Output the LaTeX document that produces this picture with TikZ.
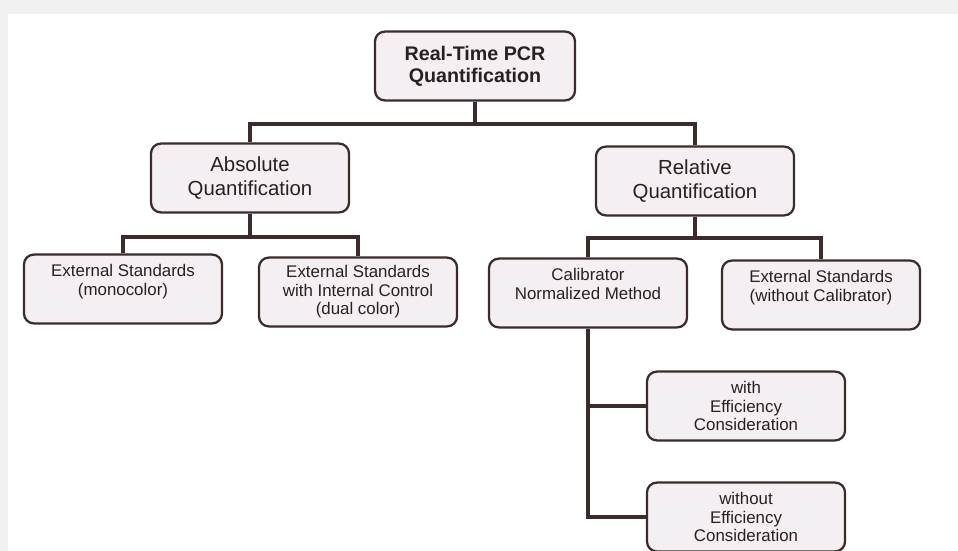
\documentclass[tikz,border=0pt]{standalone}
\usepackage{fontspec}
\setmainfont{Liberation Sans}
\definecolor{boxfill}{HTML}{F3EFF3}
\definecolor{boxline}{HTML}{3B2B2B}
\definecolor{inktext}{HTML}{2A2020}
\tikzset{
  qbox/.style={draw=boxline, fill=boxfill, line width=1.6pt, rounded corners=7pt,
    minimum width=4.95cm, minimum height=1.72cm, align=center,
    text=inktext, font=\fontsize{12}{13.2}\selectfont},
  qmain/.style={qbox, font=\fontsize{14.5}{17}\selectfont},
  qroot/.style={qbox, minimum width=5cm, font=\fontsize{14}{15.5}\selectfont\bfseries},
  bar/.style={draw=boxline, line width=2.6pt}
}
\begin{document}
\begin{tikzpicture}[x=0.025cm, y=-0.025cm]
  \useasboundingbox (0,0) rectangle (958,551);
  \fill[black!6] (0,0) rectangle (958,551);
  \fill[white] (8,14) rectangle (958,551);
  % boxes
  \node[qroot] (root) at (475,66) {Real-Time PCR\\Quantification};
  \node[qmain] (abs) at (250,178) {Absolute\\Quantification};
  \node[qmain] (rel) at (695,181) {Relative\\Quantification};
  \node[qbox] (mono) at (123,289) {External Standards\\(monocolor)\\\mbox{}};
  \node[qbox] (dual) at (358,292) {External Standards\\with Internal Control\\(dual color)};
  \node[qbox] (calib) at (588,293) {Calibrator\\Normalized Method\\\mbox{}};
  \node[qbox] (nocal) at (821,295) {External Standards\\(without Calibrator)\\\mbox{}};
  \node[qbox] (witheff) at (746,406) {with\\Efficiency\\Consideration};
  \node[qbox] (noeff) at (746,517) {without\\Efficiency\\Consideration};
  % junctions
  \coordinate (rootbar) at (475,124);
  \coordinate (absbar) at (250,237);
  \coordinate (relbar) at (695,238);
  % connectors
  \draw[bar] (root.south) -- (rootbar);
  \draw[bar] (abs.north) |- (rootbar) -| (rel.north);
  \draw[bar] (abs.south) -- (absbar);
  \draw[bar] (mono.north) |- (absbar) -| (dual.north);
  \draw[bar] (rel.south) -- (relbar);
  \draw[bar] (calib.north) |- (relbar) -| (nocal.north);
  \draw[bar] (calib.south) |- (witheff.west);
  \draw[bar] (calib.south) |- (noeff.west);
\end{tikzpicture}
\end{document}
